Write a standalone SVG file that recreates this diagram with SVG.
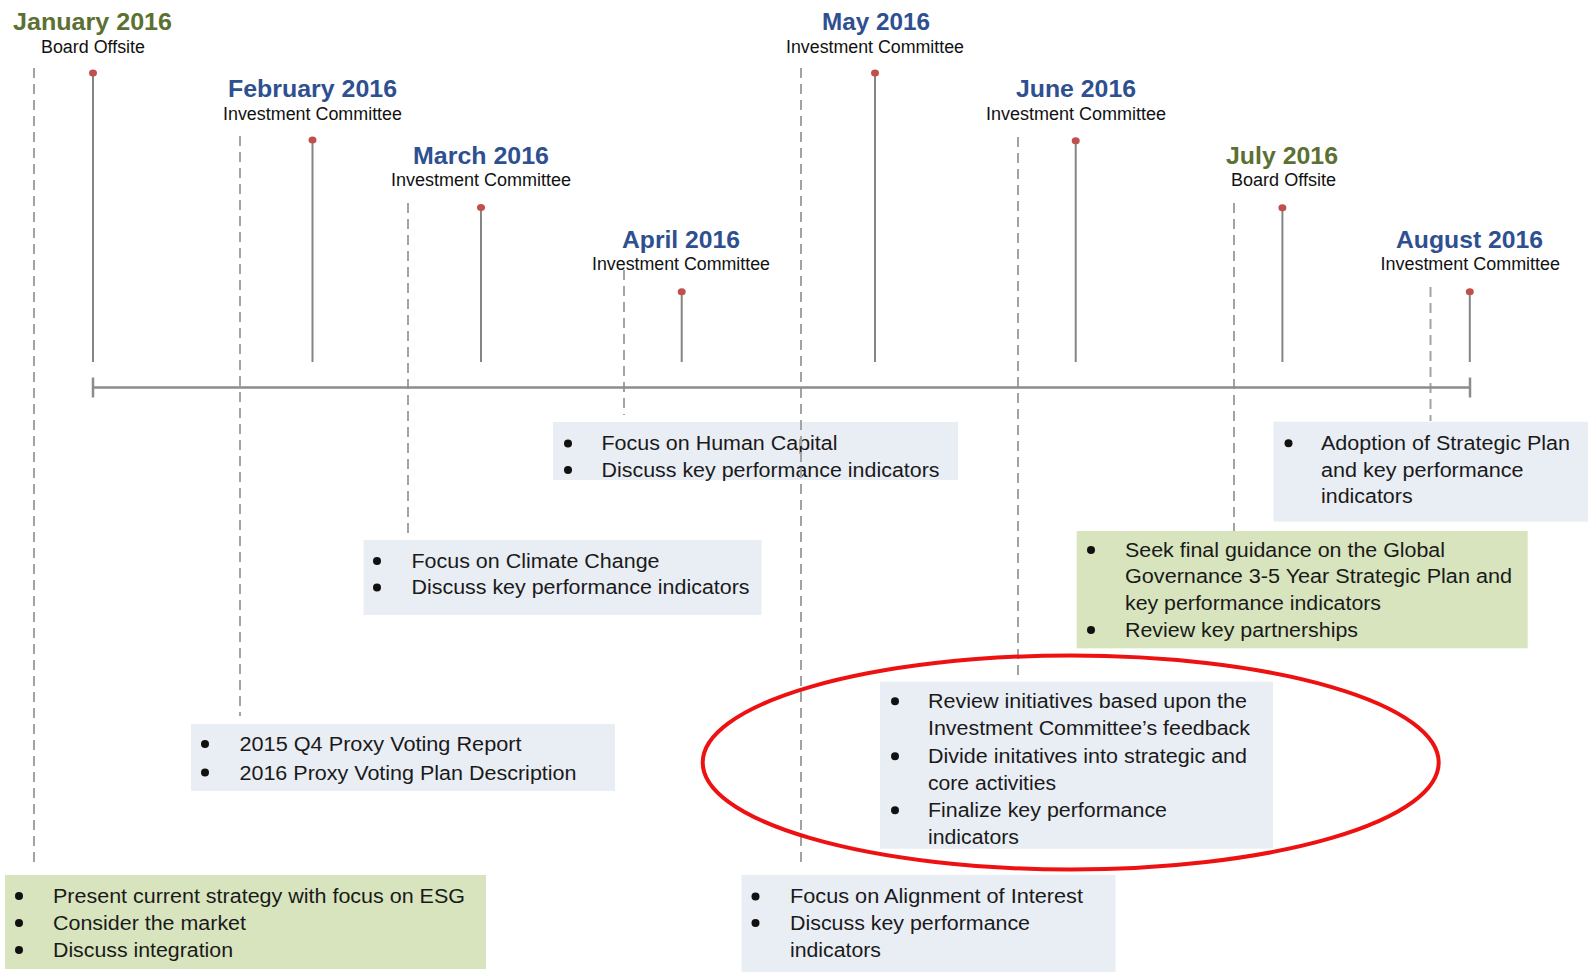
<svg xmlns="http://www.w3.org/2000/svg" width="1588" height="972" viewBox="0 0 1588 972">
  <style>
    .title { font-family: "Liberation Sans", Arial, sans-serif; font-weight: bold; font-size: 24px; }
    .blue { fill: #2e5090; }
    .olive { fill: #5b7032; }
    .sub { font-family: "Liberation Sans", Arial, sans-serif; font-size: 18px; fill: #111; }
    .body { font-family: "Liberation Sans", Arial, sans-serif; font-size: 20px; fill: #1a1a1a; }
    .boxBlue { fill: #e9edf4; }
    .boxGreen { fill: #d7e4bd; }
    .bullet { fill: #111; }
    .dash { stroke: #a3a3a3; stroke-width: 2; stroke-dasharray: 10 6; fill: none; }
    .stem { stroke: #858585; stroke-width: 2; fill: none; }
    .axis { stroke: #8c8c8c; stroke-width: 2.5; fill: none; }
    .dot { fill: #c0504d; }
    .ring { fill: none; stroke: #ee1111; stroke-width: 4; }
  </style>

  <!-- Note boxes -->
  <g id="box-jan">
    <rect class="boxGreen" x="5" y="875" width="481" height="94"/>
    <circle class="bullet" cx="19" cy="896" r="4"/>
    <circle class="bullet" cx="19" cy="923" r="4"/>
    <circle class="bullet" cx="19" cy="950" r="4"/>
    <text class="body" x="53" y="903" textLength="412" lengthAdjust="spacingAndGlyphs">Present current strategy with focus on ESG</text>
    <text class="body" x="53" y="930" textLength="193" lengthAdjust="spacingAndGlyphs">Consider the market</text>
    <text class="body" x="53" y="957" textLength="180" lengthAdjust="spacingAndGlyphs">Discuss integration</text>
  </g>

  <g id="box-feb">
    <rect class="boxBlue" x="191" y="724" width="424" height="67"/>
    <circle class="bullet" cx="205" cy="744" r="4"/>
    <circle class="bullet" cx="205" cy="772.5" r="4"/>
    <text class="body" x="239.5" y="751" textLength="282" lengthAdjust="spacingAndGlyphs">2015 Q4 Proxy Voting Report</text>
    <text class="body" x="239.5" y="779.5" textLength="337" lengthAdjust="spacingAndGlyphs">2016 Proxy Voting Plan Description</text>
  </g>

  <g id="box-mar">
    <rect class="boxBlue" x="363.5" y="540" width="398" height="75"/>
    <circle class="bullet" cx="377" cy="561" r="4"/>
    <circle class="bullet" cx="377" cy="587.5" r="4"/>
    <text class="body" x="411.5" y="567.5" textLength="248" lengthAdjust="spacingAndGlyphs">Focus on Climate Change</text>
    <text class="body" x="411.5" y="594" textLength="338" lengthAdjust="spacingAndGlyphs">Discuss key performance indicators</text>
  </g>

  <g id="box-apr">
    <rect class="boxBlue" x="553" y="422" width="405" height="58"/>
    <circle class="bullet" cx="568" cy="443.5" r="4"/>
    <circle class="bullet" cx="568" cy="470" r="4"/>
    <text class="body" x="601.5" y="450" textLength="236" lengthAdjust="spacingAndGlyphs">Focus on Human Capital</text>
    <text class="body" x="601.5" y="476.5" textLength="338" lengthAdjust="spacingAndGlyphs">Discuss key performance indicators</text>
  </g>

  <g id="box-may">
    <rect class="boxBlue" x="741.5" y="875" width="374" height="97"/>
    <circle class="bullet" cx="755.5" cy="896.5" r="4"/>
    <circle class="bullet" cx="755.5" cy="923" r="4"/>
    <text class="body" x="790" y="903.3" textLength="293" lengthAdjust="spacingAndGlyphs">Focus on Alignment of Interest</text>
    <text class="body" x="790" y="930" textLength="240" lengthAdjust="spacingAndGlyphs">Discuss key performance</text>
    <text class="body" x="790" y="956.7" textLength="91" lengthAdjust="spacingAndGlyphs">indicators</text>
  </g>

  <g id="box-jun">
    <rect class="boxBlue" x="880" y="681.7" width="393" height="167"/>
    <circle class="bullet" cx="895" cy="701.3" r="4"/>
    <circle class="bullet" cx="895" cy="756.3" r="4"/>
    <circle class="bullet" cx="895" cy="810.3" r="4"/>
    <text class="body" x="928" y="708" textLength="319" lengthAdjust="spacingAndGlyphs">Review initiatives based upon the</text>
    <text class="body" x="928" y="735" textLength="322" lengthAdjust="spacingAndGlyphs">Investment Committee’s feedback</text>
    <text class="body" x="928" y="763" textLength="319" lengthAdjust="spacingAndGlyphs">Divide initatives into strategic and</text>
    <text class="body" x="928" y="790" textLength="128" lengthAdjust="spacingAndGlyphs">core activities</text>
    <text class="body" x="928" y="817" textLength="239" lengthAdjust="spacingAndGlyphs">Finalize key performance</text>
    <text class="body" x="928" y="843.5" textLength="91" lengthAdjust="spacingAndGlyphs">indicators</text>
  </g>

  <g id="box-jul">
    <rect class="boxGreen" x="1076.7" y="531" width="451" height="117.3"/>
    <circle class="bullet" cx="1091" cy="550" r="4"/>
    <circle class="bullet" cx="1091" cy="630" r="4"/>
    <text class="body" x="1125" y="556.7" textLength="320" lengthAdjust="spacingAndGlyphs">Seek final guidance on the Global</text>
    <text class="body" x="1125" y="583.3" textLength="387" lengthAdjust="spacingAndGlyphs">Governance 3-5 Year Strategic Plan and</text>
    <text class="body" x="1125" y="610" textLength="256" lengthAdjust="spacingAndGlyphs">key performance indicators</text>
    <text class="body" x="1125" y="636.7" textLength="233" lengthAdjust="spacingAndGlyphs">Review key partnerships</text>
  </g>

  <g id="box-aug">
    <rect class="boxBlue" x="1273.5" y="421.7" width="314.5" height="100"/>
    <circle class="bullet" cx="1288.5" cy="443.3" r="4"/>
    <text class="body" x="1321" y="450" textLength="249" lengthAdjust="spacingAndGlyphs">Adoption of Strategic Plan</text>
    <text class="body" x="1321" y="476.7" textLength="202.5" lengthAdjust="spacingAndGlyphs">and key performance</text>
    <text class="body" x="1321" y="502.7" textLength="91.6" lengthAdjust="spacingAndGlyphs">indicators</text>
  </g>

  <!-- Leader lines from each month down to its note box -->
  <g id="connectors">
    <line class="dash" x1="34" y1="68" x2="34" y2="868"/>
    <line class="dash" x1="240" y1="136" x2="240" y2="716"/>
    <line class="dash" x1="408" y1="203" x2="408" y2="535"/>
    <line class="dash" x1="624" y1="270" x2="624" y2="415"/>
    <line class="dash" x1="801" y1="68" x2="801" y2="868"/>
    <line class="dash" x1="1018" y1="137" x2="1018" y2="681"/>
    <line class="dash" x1="1234" y1="203" x2="1234" y2="531"/>
    <line class="dash" x1="1430.5" y1="287" x2="1430.5" y2="421"/>
  </g>

  <!-- Timeline axis with month stems -->
  <g id="timeline">
    <line class="axis" x1="93" y1="387.5" x2="1470" y2="387.5"/>
    <line class="axis" x1="93" y1="377.5" x2="93" y2="397.5"/>
    <line class="axis" x1="1470" y1="377.5" x2="1470" y2="397.5"/>
  </g>

  <g id="month-jan">
    <line class="stem" x1="93" y1="73" x2="93" y2="362"/>
    <ellipse class="dot" cx="93" cy="73" rx="4" ry="3.5"/>
    <text class="title olive" x="13" y="30" textLength="159" lengthAdjust="spacingAndGlyphs">January 2016</text>
    <text class="sub" x="41" y="52.5" textLength="104" lengthAdjust="spacingAndGlyphs">Board Offsite</text>
  </g>
  <g id="month-feb">
    <line class="stem" x1="312.5" y1="140" x2="312.5" y2="362"/>
    <ellipse class="dot" cx="312.5" cy="140" rx="4" ry="3.5"/>
    <text class="title blue" x="228" y="97" textLength="169" lengthAdjust="spacingAndGlyphs">February 2016</text>
    <text class="sub" x="223" y="120" textLength="179" lengthAdjust="spacingAndGlyphs">Investment Committee</text>
  </g>
  <g id="month-mar">
    <line class="stem" x1="481" y1="207.6" x2="481" y2="362"/>
    <ellipse class="dot" cx="481" cy="207.6" rx="4" ry="3.5"/>
    <text class="title blue" x="413" y="164" textLength="136" lengthAdjust="spacingAndGlyphs">March 2016</text>
    <text class="sub" x="391" y="186" textLength="180" lengthAdjust="spacingAndGlyphs">Investment Committee</text>
  </g>
  <g id="month-apr">
    <line class="stem" x1="681.7" y1="291.7" x2="681.7" y2="362"/>
    <ellipse class="dot" cx="681.7" cy="291.7" rx="4" ry="3.5"/>
    <text class="title blue" x="622" y="248.3" textLength="118" lengthAdjust="spacingAndGlyphs">April 2016</text>
    <text class="sub" x="592" y="269.5" textLength="178" lengthAdjust="spacingAndGlyphs">Investment Committee</text>
  </g>
  <g id="month-may">
    <line class="stem" x1="875" y1="73" x2="875" y2="362"/>
    <ellipse class="dot" cx="875" cy="73" rx="4" ry="3.5"/>
    <text class="title blue" x="822" y="30" textLength="108" lengthAdjust="spacingAndGlyphs">May 2016</text>
    <text class="sub" x="786" y="52.7" textLength="178" lengthAdjust="spacingAndGlyphs">Investment Committee</text>
  </g>
  <g id="month-jun">
    <line class="stem" x1="1075.7" y1="140.7" x2="1075.7" y2="362"/>
    <ellipse class="dot" cx="1075.7" cy="140.7" rx="4" ry="3.5"/>
    <text class="title blue" x="1016" y="96.7" textLength="120" lengthAdjust="spacingAndGlyphs">June 2016</text>
    <text class="sub" x="986" y="120" textLength="180" lengthAdjust="spacingAndGlyphs">Investment Committee</text>
  </g>
  <g id="month-jul">
    <line class="stem" x1="1282.4" y1="207.7" x2="1282.4" y2="362"/>
    <ellipse class="dot" cx="1282.4" cy="207.7" rx="4" ry="3.5"/>
    <text class="title olive" x="1226" y="164" textLength="112" lengthAdjust="spacingAndGlyphs">July 2016</text>
    <text class="sub" x="1231" y="186" textLength="105" lengthAdjust="spacingAndGlyphs">Board Offsite</text>
  </g>
  <g id="month-aug">
    <line class="stem" x1="1469.8" y1="291.7" x2="1469.8" y2="362"/>
    <ellipse class="dot" cx="1469.8" cy="291.7" rx="4" ry="3.5"/>
    <text class="title blue" x="1396" y="248" textLength="147" lengthAdjust="spacingAndGlyphs">August 2016</text>
    <text class="sub" x="1380.5" y="270" textLength="179.5" lengthAdjust="spacingAndGlyphs">Investment Committee</text>
  </g>

  <!-- Highlight ring around the June notes -->
  <g id="highlight">
    <ellipse class="ring" cx="1070.7" cy="762.5" rx="368" ry="107"/>
  </g>
</svg>
